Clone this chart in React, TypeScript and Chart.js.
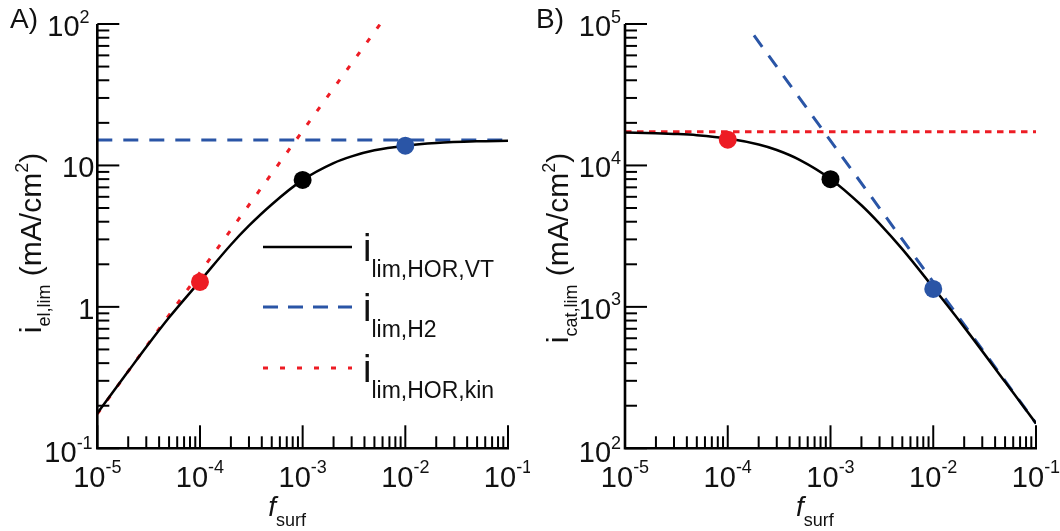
import React, { useEffect, useRef } from "react";
import { Chart, registerables } from "chart.js";
Chart.register(...registerables);

// ---------------- data ----------------
const fSurf = [1e-5, 2e-5, 3e-5, 5e-5, 1e-4, 2e-4, 3e-4, 5e-4, 1e-3, 2e-3, 3e-3, 5e-3, 1e-2, 2e-2, 5e-2, 1e-1];
// panel A: i_lim,HOR,VT (mA/cm2)
const iElLimVT = [0.177, 0.35, 0.52, 0.84, 1.52, 2.75, 3.75, 5.3, 7.9, 10.4, 11.6, 12.8, 13.8, 14.4, 14.8, 14.95];
// panel B: i_cat,lim (mA/cm2)
const iCatLimVT = [17100, 16900, 16700, 16350, 15500, 14050, 12850, 10950, 8030, 5230, 3880, 2560, 1370, 719, 295, 150];

// asymptotes, panel A
const kinElX = [1e-5, 5.7e-3];
const kinElY = [0.175, 100];
const h2ElX = [1e-5, 1e-1];
const h2ElY = [15.1, 15.1];
// asymptotes, panel B
const kinCatX = [1e-5, 1e-1];
const kinCatY = [17300, 17300];
const h2CatX = [1.8e-4, 1e-1];
const h2CatY = [83000, 150];

// highlighted points
const markerX = [1e-4, 1e-3, 1e-2];
const markerElY = [1.5, 7.9, 13.8];
const markerCatY = [15200, 8000, 1340];

// tick labels
const xTickValues = [1e-5, 1e-4, 1e-3, 1e-2, 1e-1];
const xTickExps = ["-5", "-4", "-3", "-2", "-1"];
const elTickValues = [0.1, 1, 10, 100];
const elTickBases = ["10", "1", "10", "10"];
const elTickExps = ["-1", "", "", "2"];
const catTickValues = [100, 1000, 10000, 100000];
const catTickBases = ["10", "10", "10", "10"];
const catTickExps = ["2", "3", "4", "5"];

const legendNames = ["lim,HOR,VT", "lim,H2", "lim,HOR,kin"];

// ---------------- styles ----------------
const RED = "#ED1C24";
const BLUE = "#2A55A6";
const BLACK = "#000000";
const TXT = "#111111";
const FONT = '"Liberation Sans", Arial, Helvetica, sans-serif';
const markerColors = [RED, BLACK, BLUE];

type Part = { t: string; s: number; dy?: number; it?: boolean };
const fnt = (p: Part) => `${p.it ? "italic " : ""}${p.s}px ${FONT}`;
function richWidth(ctx: CanvasRenderingContext2D, parts: Part[]) {
  let w = 0;
  for (const p of parts) {
    ctx.font = fnt(p);
    w += ctx.measureText(p.t).width;
  }
  return w;
}
function drawRich(ctx: CanvasRenderingContext2D, parts: Part[], x: number, y: number, align: "left" | "center" | "right") {
  const w = richWidth(ctx, parts);
  let cx = align === "left" ? x : align === "center" ? x - w / 2 : x - w;
  ctx.textAlign = "left";
  ctx.textBaseline = "alphabetic";
  for (const p of parts) {
    ctx.font = fnt(p);
    ctx.fillText(p.t, cx, y + (p.dy || 0));
    cx += ctx.measureText(p.t).width;
  }
}
const pts = (xs: number[], ys: number[]) => xs.map((x, i) => ({ x, y: ys[i] }));

function logTickList(min: number, max: number) {
  const out: { v: number; major: boolean }[] = [];
  const a = Math.round(Math.log10(min));
  const b = Math.round(Math.log10(max));
  for (let e = a; e <= b; e++) {
    for (let m = 1; m <= 9; m++) {
      const v = m * Math.pow(10, e);
      if (v > max * 1.0001) break;
      out.push({ v, major: m === 1 });
    }
  }
  return out;
}

type Spec = {
  padding: { left: number; right: number; top: number; bottom: number };
  yMin: number;
  yMax: number;
  yVals: number[];
  yBases: string[];
  yExps: string[];
  ySupOffset: number;
  letter: string;
  letterX: number;
  yTitleSub: string;
  yTitleX: number;
  yTitleCenter: number;
  legend: boolean;
  datasets: any[];
};

function Panel({ spec }: { spec: Spec }) {
  const ref = useRef<HTMLCanvasElement | null>(null);
  useEffect(() => {
    const canvas = ref.current;
    if (!canvas) return;
    const decor = {
      id: "decor",
      afterDatasetsDraw(chart: any) {
        const ctx: CanvasRenderingContext2D = chart.ctx;
        const xs = chart.scales.x;
        const ys = chart.scales.y;
        const { left, right, top, bottom } = chart.chartArea;
        ctx.save();
        ctx.strokeStyle = BLACK;
        ctx.lineCap = "butt";
        ctx.lineWidth = 2;
        for (const t of logTickList(1e-5, 1e-1)) {
          const x = xs.getPixelForValue(t.v);
          const len = t.major ? 23 : 12;
          ctx.beginPath();
          ctx.moveTo(x, bottom);
          ctx.lineTo(x, bottom - len);
          ctx.stroke();
        }
        for (const t of logTickList(spec.yMin, spec.yMax)) {
          const y = ys.getPixelForValue(t.v);
          const len = t.major ? 22 : 12;
          ctx.beginPath();
          ctx.moveTo(left, y);
          ctx.lineTo(left + len, y);
          ctx.stroke();
        }
        ctx.lineWidth = 2.6;
        ctx.beginPath();
        ctx.moveTo(left, top);
        ctx.lineTo(left, bottom);
        ctx.lineTo(right + 1, bottom);
        ctx.stroke();

        ctx.fillStyle = TXT;
        // x tick labels
        xTickValues.forEach((v, i) => {
          const x = xs.getPixelForValue(v);
          drawRich(ctx, [{ t: "10", s: 29 }, { t: xTickExps[i], s: 18, dy: -14 }], x, bottom + 39, "center");
        });
        // y tick labels
        spec.yVals.forEach((v, i) => {
          const y = ys.getPixelForValue(v);
          const base = y + (i === 0 ? 14 : 12);
          if (spec.yExps[i]) {
            drawRich(ctx, [{ t: spec.yBases[i], s: 29 }, { t: spec.yExps[i], s: 18, dy: -13.5 }], left - spec.ySupOffset, base, "center");
          } else {
            drawRich(ctx, [{ t: spec.yBases[i], s: 29 }], left - 3, base, "right");
          }
        });
        // x title
        drawRich(ctx, [{ t: "f", s: 28, it: true }, { t: "surf", s: 18, dy: 10 }], left + 171, bottom + 68, "left");
        // y title
        ctx.save();
        ctx.translate(spec.yTitleX, spec.yTitleCenter);
        ctx.rotate(-Math.PI / 2);
        drawRich(
          ctx,
          [
            { t: "i", s: 30 },
            { t: spec.yTitleSub, s: 18, dy: 9 },
            { t: " (mA/cm", s: 30 },
            { t: "2", s: 18, dy: -13 },
            { t: ")", s: 30 },
          ],
          0,
          0,
          "center"
        );
        ctx.restore();
        // panel letter
        drawRich(ctx, [{ t: spec.letter, s: 28 }], spec.letterX, 28, "left");

        // legend
        if (spec.legend) {
          const rows = [
            { y: 247, color: BLACK, dash: [] as number[], w: 2.5 },
            { y: 307, color: BLUE, dash: [15, 10], w: 3 },
            { y: 368, color: RED, dash: [5, 12], w: 3 },
          ];
          rows.forEach((r, i) => {
            ctx.save();
            ctx.strokeStyle = r.color;
            ctx.lineWidth = r.w;
            ctx.setLineDash(r.dash);
            ctx.beginPath();
            ctx.moveTo(263, r.y);
            ctx.lineTo(352, r.y);
            ctx.stroke();
            ctx.restore();
            ctx.fillStyle = TXT;
            drawRich(ctx, [{ t: "i", s: 38 }, { t: legendNames[i], s: 23, dy: 16 }], 363, r.y + 14, "left");
          });
        }
        ctx.restore();
      },
    };
    const chart = new Chart(canvas, {
      type: "scatter",
      data: { datasets: spec.datasets },
      options: {
        responsive: false,
        animation: false,
        events: [],
        layout: { padding: spec.padding },
        plugins: { legend: { display: false }, tooltip: { enabled: false } },
        scales: {
          x: { type: "logarithmic", min: 1e-5, max: 1e-1, display: false },
          y: { type: "logarithmic", min: spec.yMin, max: spec.yMax, display: false },
        },
      } as any,
      plugins: [decor],
    });
    return () => chart.destroy();
  }, [spec]);
  return <canvas ref={ref} width={530} height={531} style={{ display: "block" }} />;
}

function curveSet(xs: number[], ys: number[]) {
  return {
    data: pts(xs, ys),
    showLine: true,
    borderColor: BLACK,
    borderWidth: 2.5,
    pointRadius: 0,
    cubicInterpolationMode: "monotone",
  };
}
function dashSet(xs: number[], ys: number[], color: string, dash: number[]) {
  return {
    data: pts(xs, ys),
    showLine: true,
    borderColor: color,
    borderWidth: 3,
    borderDash: dash,
    pointRadius: 0,
  };
}
function markerSet(xs: number[], ys: number[]) {
  return {
    data: pts(xs, ys),
    showLine: false,
    pointRadius: 9,
    pointBorderWidth: 0,
    borderWidth: 0,
    pointBackgroundColor: markerColors,
    backgroundColor: markerColors,
  };
}

const specA: Spec = {
  padding: { left: 97.3, right: 22, top: 24, bottom: 82.7 },
  yMin: 0.1,
  yMax: 100,
  yVals: elTickValues,
  yBases: elTickBases,
  yExps: elTickExps,
  ySupOffset: 28.8,
  letter: "A)",
  letterX: 10,
  yTitleSub: "el,lim",
  yTitleX: 41,
  yTitleCenter: 243,
  legend: true,
  datasets: [
    markerSet(markerX, markerElY),
    curveSet(fSurf, iElLimVT),
    dashSet(kinElX, kinElY, RED, [5, 12]),
    dashSet(h2ElX, h2ElY, BLUE, [15, 11]),
  ],
};

const specB: Spec = {
  padding: { left: 95, right: 24, top: 24, bottom: 82.7 },
  yMin: 100,
  yMax: 100000,
  yVals: catTickValues,
  yBases: catTickBases,
  yExps: catTickExps,
  ySupOffset: 25,
  letter: "B)",
  letterX: 6,
  yTitleSub: "cat,lim",
  yTitleX: 38,
  yTitleCenter: 248,
  legend: false,
  datasets: [
    markerSet(markerX, markerCatY),
    curveSet(fSurf, iCatLimVT),
    dashSet(h2CatX, h2CatY, BLUE, [14, 11]),
    dashSet(kinCatX, kinCatY, RED, [6.5, 5.5]),
  ],
};

export default function App() {
  return (
    <div style={{ position: "absolute", left: 0, top: 0, width: 1060, height: 531, display: "flex", background: "#fff" }}>
      <Panel spec={specA} />
      <Panel spec={specB} />
    </div>
  );
}
